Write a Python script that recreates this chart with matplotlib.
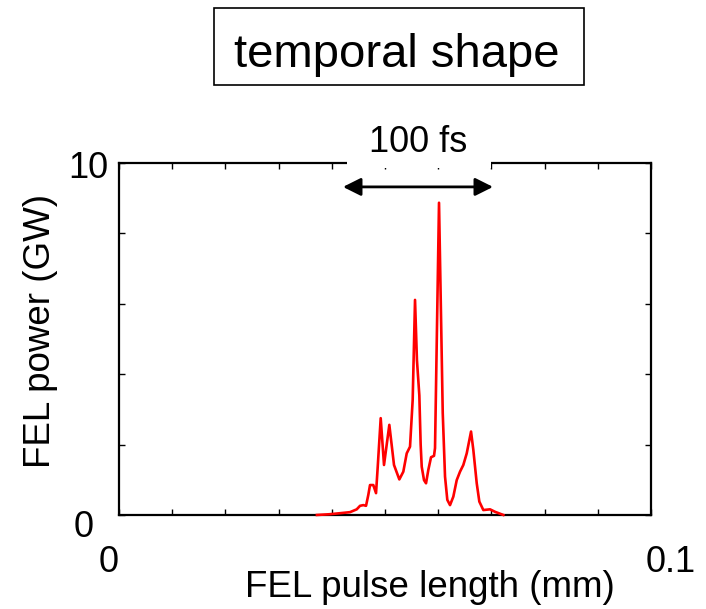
import matplotlib
matplotlib.use("Agg")
import matplotlib.pyplot as plt
from matplotlib.patches import Rectangle

plt.rcParams['font.family'] = ['Liberation Sans', 'DejaVu Sans']

# FEL temporal profile: position along the bunch (mm) and power (GW)
pulse_x = [0.0372, 0.0395, 0.04154, 0.04342, 0.04468, 0.0453, 0.04592, 0.04643,
           0.04686, 0.04718, 0.0478, 0.04831, 0.04863, 0.04919, 0.04981, 0.05081,
           0.05169, 0.05269, 0.05344, 0.05408, 0.0547, 0.0552, 0.05564, 0.05600,
           0.05645, 0.05670, 0.0569, 0.05733, 0.05771, 0.05814, 0.05865, 0.05921,
           0.0594, 0.06015, 0.06085, 0.06128, 0.06171, 0.06222, 0.06284, 0.06348,
           0.0641, 0.06472, 0.06536, 0.06617, 0.0666, 0.06724, 0.06773, 0.06848,
           0.06974, 0.07068, 0.07224]
power_gw = [0.0, 0.02, 0.05, 0.08, 0.16, 0.26, 0.28, 0.26,
            0.57, 0.85, 0.85, 0.62, 1.37, 2.75, 1.42, 2.56,
            1.42, 1.01, 1.23, 1.75, 1.94, 3.27, 6.11, 4.4,
            3.4, 2.0, 1.37, 0.99, 0.90, 1.28, 1.64, 1.68,
            1.9, 8.87, 2.9, 1.09, 0.43, 0.28, 0.52, 0.99,
            1.23, 1.42, 1.75, 2.37, 1.85, 0.90, 0.38, 0.14,
            0.16, 0.09, 0.0]

# 100 fs pulse-length marker (mm)
width_start = 0.0421
width_end = 0.0703
width_level = 9.32

W, H = 706, 609
fig = plt.figure(figsize=(W / 100, H / 100), dpi=100)
ax = fig.add_axes([0.1686, 0.1544, 0.7535, 0.578])

ax.plot(pulse_x, power_gw, color='red', lw=1.9, clip_on=False, zorder=3)

ax.set_xlim(0, 0.1)
ax.set_ylim(0, 10)
ax.set_xticks([i * 0.01 for i in range(11)])
ax.set_yticks([0, 2, 4, 6, 8, 10])
ax.set_xticklabels([])
ax.set_yticklabels([])
ax.tick_params(direction='in', length=4.5, width=1, top=True, right=True)
for s in ax.spines.values():
    s.set_linewidth(1.6)

# axis end labels
lab = dict(fontsize=26, ha='center', va='baseline', xycoords='data',
           textcoords='offset pixels', annotation_clip=False)
ax.annotate('0', xy=(0, 0), xytext=(-10, -57), **lab)
ax.annotate('0.1', xy=(0.1, 0), xytext=(20, -57), **lab)
ax.annotate('0', xy=(0, 0), xytext=(-35, -22), **lab)
ax.annotate('10', xy=(0, 10), xytext=(-31, -15), **lab)

fig.text(41 / W, 1 - 331 / H, 'FEL power (GW)', rotation=90,
         fontsize=26.5, ha='center', va='center')
fig.text(430 / W, 1 - 597 / H, 'FEL pulse length (mm)',
         fontsize=26.5, ha='center', va='baseline')

# white gap in the top frame behind the label
ax.add_patch(Rectangle((0.4286, 0.985), 0.2707, 0.12, transform=ax.transAxes,
                       facecolor='white', edgecolor='none', clip_on=False, zorder=5))
ax.annotate('', xy=(width_start, width_level), xytext=(width_end, width_level),
            arrowprops=dict(arrowstyle='<|-|>', color='black', lw=2,
                            mutation_scale=27, shrinkA=0, shrinkB=0),
            annotation_clip=False, zorder=6)
fig.text(418 / W, 1 - 152 / H, '100 fs', fontsize=26,
         ha='center', va='baseline', zorder=7)

# title box
fig.patches.append(Rectangle((214 / W, 1 - 85 / H), 370 / W, 77 / H,
                             transform=fig.transFigure, facecolor='white',
                             edgecolor='black', lw=1.2))
fig.text(396.5 / W, 1 - 67 / H, 'temporal shape', fontsize=34,
         ha='center', va='baseline')

fig.savefig('out.png', dpi=100)
